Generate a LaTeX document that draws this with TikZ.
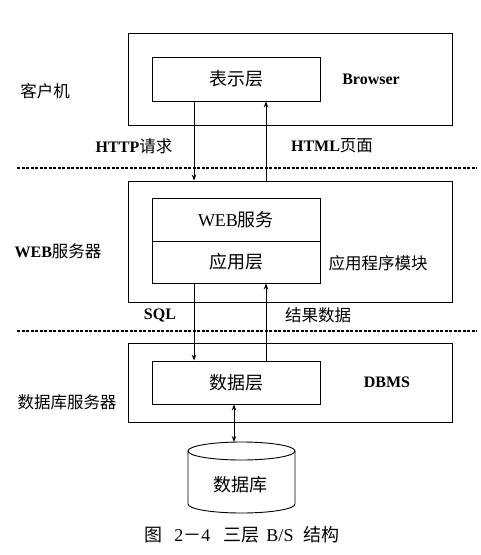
\documentclass[tikz,border=0pt]{standalone}
\usepackage{fontspec}
\setmainfont{Liberation Serif}
\newfontfamily\cjk{Noto Sans CJK SC}
\usetikzlibrary{arrows.meta}
\begin{document}
\begin{tikzpicture}[x=1pt,y=-1pt,
  box/.style={draw,line width=0.9pt,inner sep=0pt},
  outerbox/.style={box,minimum width=324pt},
  innerbox/.style={box,minimum width=168pt,font=\fontsize{18}{18}\selectfont},
  lbl/.style={inner sep=0pt,font=\fontsize{16.5}{16.5}\selectfont},
  lat/.style={inner sep=0pt,font=\fontsize{16}{16}\selectfont\bfseries},
  arr/.style={line width=0.9pt,-{Stealth[length=6pt,width=4.5pt]}},
  darr/.style={line width=0.9pt,{Stealth[length=6pt,width=4.5pt]}-{Stealth[length=6pt,width=4.5pt]}},
  sep/.style={line width=1.1pt,dash pattern=on 3pt off 1.5pt}]
\useasboundingbox (0,0) rectangle (480,555);
% layer boxes
\node[outerbox,minimum height=92pt] (client) at (290,79) {};
\node[innerbox,minimum height=44pt] (pres) at (236,79) {\cjk 表示层};
\node[outerbox,minimum height=121pt] (websrv) at (290,241.5) {};
\node[innerbox,minimum height=43pt] (webs) at (236,219.5) {WEB{\cjk 服务}};
\node[innerbox,minimum height=42pt] (app) at (236,262) {\cjk 应用层};
\node[outerbox,minimum height=79pt] (dbsrv) at (290,382.5) {};
\node[innerbox,minimum height=43pt] (datal) at (236,382.5) {\cjk 数据层};
% side labels
\node[lbl] (lclient) at (45,91) {\cjk 客户机};
\node[lbl] (lweb) at (58,251) {\fontsize{16}{16}\selectfont\bfseries WEB{\fontsize{16.5}{16.5}\selectfont\mdseries\cjk 服务器}};
\node[lbl] (ldb) at (67,402) {\cjk 数据库服务器};
\node[lat] (browser) at (371,79) {Browser};
\node[lbl] (appmod) at (378,263) {\cjk 应用程序模块};
\node[lat] (dbms) at (387,382) {DBMS};
% arrow labels
\node[lat] (http) at (134,146) {HTTP{\fontsize{16.5}{16.5}\selectfont\mdseries\cjk 请求}};
\node[lat] (html) at (332,146) {HTML{\fontsize{16.5}{16.5}\selectfont\mdseries\cjk 页面}};
\node[lat] (sql) at (160,315) {SQL};
\node[lbl] (res) at (318,315) {\cjk 结果数据};
% separators
\coordinate (s1l) at (17,168); \coordinate (s1r) at (477,168);
\coordinate (s2l) at (17,331); \coordinate (s2r) at (477,331);
\draw[sep] (s1l) -- (s1r);
\draw[sep] (s2l) -- (s2r);
% arrow columns
\coordinate (lx) at (194,0);
\coordinate (rx) at (266,0);
\coordinate (mx) at (234,0);
\draw[arr] (pres.south -| lx) -- (websrv.north -| lx);
\draw[arr] (websrv.north -| rx) -- (pres.south -| rx);
\draw[arr] (app.south -| lx) -- (datal.north -| lx);
\draw[arr] (datal.north -| rx) -- (app.south -| rx);
% cylinder
\draw[line width=0.9pt,fill=white] (188,451) -- (188,504) arc[start angle=180,end angle=360,x radius=53.5pt,y radius=9pt] -- (295,451);
\draw[line width=0.9pt] (241.5,451) ellipse[x radius=53.5pt,y radius=9pt];
\coordinate (dbtop) at (234,442);
\node[inner sep=0pt,font=\fontsize{18}{18}\selectfont] (db) at (240,485) {\cjk 数据库};
\draw[darr] (datal.south -| mx) -- (dbtop);
% caption
\node[inner sep=0pt,font=\fontsize{18}{18}\selectfont] (cap) at (242,535) {{\cjk 图}\hspace{12pt}2{\cjk －}4\hspace{13pt}{\cjk 三层}\hspace{7pt}B/S\hspace{10pt}{\cjk 结构}};
\end{tikzpicture}
\end{document}
